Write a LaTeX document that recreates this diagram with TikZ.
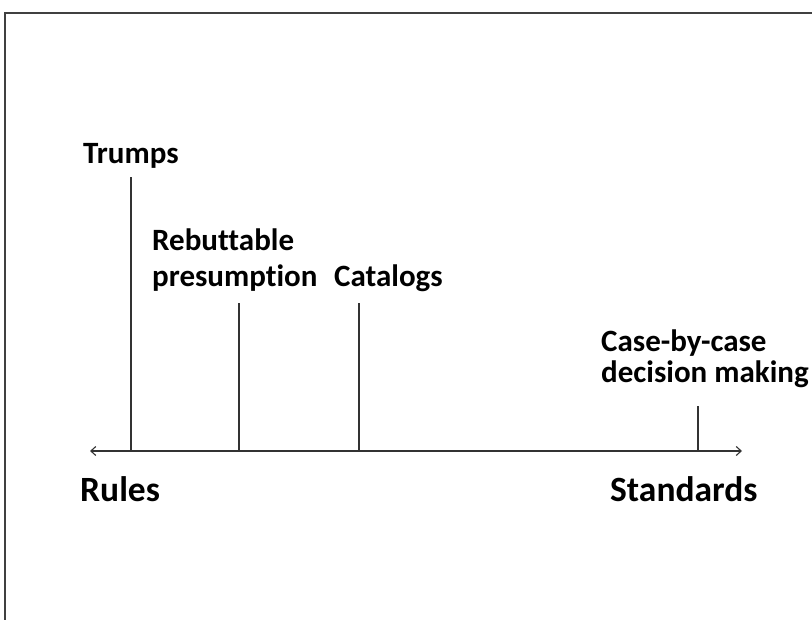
\documentclass[tikz,border=0pt]{standalone}
\usepackage{fontspec}
\setmainfont[Ligatures={NoCommon}]{Carlito}
\usetikzlibrary{arrows.meta}
\begin{document}
\begin{tikzpicture}[x=1pt,y=-1pt,
  frame/.style={draw=black!75,line width=1.3pt},
  axisline/.style={draw=black!80,line width=1.1pt,{Straight Barb[length=5pt,width=9pt]}-{Straight Barb[length=5pt,width=9pt]}},
  tick/.style={draw=black!80,line width=1.1pt},
  lab/.style={inner sep=0pt,anchor=base west,font=\bfseries\fontsize{31}{36}\selectfont,align=left},
  biglab/.style={inner sep=0pt,anchor=base west,font=\bfseries\fontsize{35.5}{40}\selectfont}]
\useasboundingbox (0,0) rectangle (812,620);
\draw[frame] (5,620) -- (5,13) -- (815,13);
% axis
\coordinate (L) at (90,451);
\coordinate (R) at (742,451);
\draw[axisline] (L) -- (R);
% ticks
\coordinate (t1b) at (131,451); \coordinate (t1t) at (131,177);
\coordinate (t2b) at (239,451); \coordinate (t2t) at (239,303);
\coordinate (t3b) at (359,451); \coordinate (t3t) at (359,303);
\coordinate (t4b) at (698,451); \coordinate (t4t) at (698,406);
\draw[tick] (t1b) -- (t1t);
\draw[tick] (t2b) -- (t2t);
\draw[tick] (t3b) -- (t3t);
\draw[tick] (t4b) -- (t4t);
% labels
\node[lab] (trumps) at (83,164) {Trumps};
\node[lab] (rebut) at (152,287) {Rebuttable\\presumption};
\node[lab] (cat) at (334,287) {Catalogs};
\node[lab,font=\bfseries\fontsize{31}{31}\selectfont] (case) at (601,383) {Case-by-case\\decision making};
\node[biglab] (rules) at (80,501) {Rules};
\node[biglab] (std) at (610,501) {Standards};
\end{tikzpicture}
\end{document}
